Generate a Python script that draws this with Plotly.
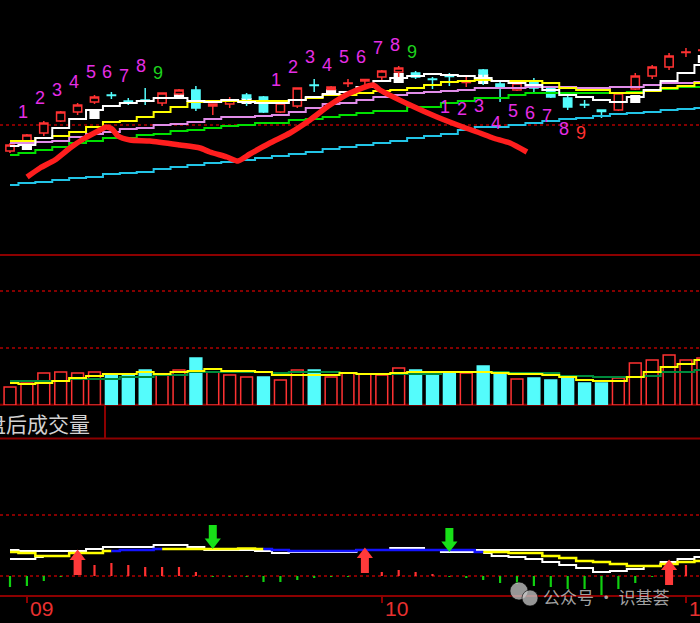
import plotly.graph_objects as go

# ---------------- data ----------------
idx = list(range(42))

open_ = [12.49, 12.58, 12.67, 12.79, 12.88, 12.98, 13.05, 12.99, 13.00, 12.97,
         13.06, 13.10, 12.94, 12.96, 13.05, 13.03, 12.88, 12.94, 13.15, 13.105,
         13.165, 13.19, 13.23, 13.28, 13.27, 13.21, 13.24, 13.175, 13.30, 13.16,
         13.10, 13.18, 13.12, 13.02, 12.955, 12.90, 12.90, 13.11, 13.24, 13.33,
         13.475, 13.495]
high = [12.57, 12.66, 12.79, 12.89, 12.97, 13.05, 13.08, 13.02, 13.12, 13.07,
        13.11, 13.14, 12.96, 13.03, 13.07, 13.04, 12.98, 13.12, 13.21, 13.14,
        13.21, 13.21, 13.30, 13.34, 13.29, 13.23, 13.27, 13.25, 13.31, 13.20,
        13.18, 13.22, 13.14, 13.06, 13.00, 12.90, 13.08, 13.27, 13.35, 13.47,
        13.52, 13.53]
low = [12.47, 12.57, 12.64, 12.78, 12.85, 12.96, 13.01, 12.95, 12.95, 12.94,
       13.05, 12.89, 12.85, 12.92, 12.94, 12.87, 12.87, 12.92, 13.08, 13.10,
       13.13, 13.13, 13.18, 13.22, 13.21, 13.11, 13.14, 13.13, 13.15, 12.98,
       13.09, 13.08, 13.02, 12.90, 12.92, 12.82, 12.89, 13.10, 13.21, 13.30,
       13.43, 13.45]
close = [12.55, 12.65, 12.77, 12.88, 12.95, 13.03, 13.045, 12.985, 12.995, 13.07,
         13.10, 12.92, 12.96, 13.00, 13.02, 12.88, 12.97, 13.12, 13.145, 13.13,
         13.17, 13.205, 13.29, 13.32, 13.23, 13.205, 13.235, 13.18, 13.26, 13.12,
         13.17, 13.12, 13.03, 12.93, 12.95, 12.885, 13.07, 13.24, 13.33, 13.44,
         13.48, 13.50]

white_blk_idx = [1, 5, 10, 14, 19, 23, 28, 37, 41]
white_blk_top = [12.57, 12.91, 13.07, 13.02, 13.11, 13.27, 13.26, 13.05, 13.45]
white_blk_bot = [12.50, 12.81, 13.01, 12.96, 13.05, 13.17, 13.16, 12.97, 13.37]

ma_white = [12.54, 12.55, 12.62, 12.72, 12.81, 12.90, 12.94, 12.97, 12.99, 13.02,
            13.02, 12.99, 12.98, 13.00, 12.98, 12.97, 12.97, 13.00, 13.03, 13.06,
            13.08, 13.13, 13.19, 13.22, 13.24, 13.26, 13.25, 13.24, 13.22, 13.19,
            13.17, 13.15, 13.10, 13.05, 13.03, 13.00, 12.98, 13.03, 13.10, 13.19,
            13.27, 13.35]
ma_yellow = [12.59, 12.59, 12.62, 12.64, 12.68, 12.73, 12.78, 12.79, 12.83, 12.88,
             12.93, 12.98, 12.99, 12.99, 12.99, 12.99, 12.99, 13.00, 13.02, 13.05,
             13.05, 13.07, 13.09, 13.10, 13.12, 13.15, 13.18, 13.19, 13.20, 13.19,
             13.19, 13.19, 13.17, 13.12, 13.10, 13.10, 13.07, 13.07, 13.09, 13.12,
             13.14, 13.17]
ma_pink = [12.57, 12.57, 12.58, 12.59, 12.63, 12.66, 12.68, 12.71, 12.72, 12.75,
           12.76, 12.78, 12.81, 12.83, 12.83, 12.84, 12.85, 12.88, 12.92, 12.96,
           12.97, 13.00, 13.03, 13.05, 13.07, 13.08, 13.09, 13.10, 13.12, 13.12,
           13.12, 13.13, 13.13, 13.13, 13.12, 13.12, 13.13, 13.13, 13.15, 13.17,
           13.17, 13.18]
ma_green = [12.45, 12.47, 12.50, 12.53, 12.57, 12.59, 12.62, 12.62, 12.65, 12.66,
            12.69, 12.70, 12.72, 12.74, 12.75, 12.77, 12.77, 12.80, 12.81, 12.83,
            12.85, 12.87, 12.89, 12.89, 12.93, 12.93, 12.97, 12.99, 13.02, 13.02,
            13.05, 13.07, 13.07, 13.07, 13.07, 13.07, 13.07, 13.08, 13.10, 13.11,
            13.13, 13.13]
ma_cyan = [12.15, 12.17, 12.18, 12.20, 12.22, 12.23, 12.26, 12.27, 12.28, 12.31,
           12.33, 12.35, 12.37, 12.38, 12.40, 12.42, 12.44, 12.46, 12.48, 12.51,
           12.53, 12.55, 12.57, 12.59, 12.62, 12.64, 12.66, 12.70, 12.73, 12.73,
           12.75, 12.77, 12.79, 12.81, 12.82, 12.84, 12.86, 12.87, 12.88, 12.90,
           12.91, 12.92]
ref_level = 12.75

# hand-drawn red stroke over the price panel
sketch_x = [1.01, 1.78, 2.66, 3.55, 4.44, 5.33, 5.68, 6.04, 6.39, 7.10, 8.28, 10.06,
            11.24, 11.83, 12.84, 13.49, 14.20, 15.38, 16.57, 17.75, 18.93, 20.12,
            21.48, 21.89, 23.67, 25.27, 26.80, 27.81, 28.58, 29.59, 30.59]
sketch_y = [12.23, 12.32, 12.40, 12.52, 12.62, 12.70, 12.73, 12.71, 12.64, 12.60, 12.59,
            12.55, 12.52, 12.48, 12.43, 12.39, 12.46, 12.57, 12.67, 12.80, 12.95, 13.07,
            13.15, 13.10, 12.95, 12.83, 12.73, 12.67, 12.62, 12.57, 12.48]

td_text = ['1', '2', '3', '4', '5', '6', '7', '8', '9']
td1_idx = [1, 2, 3, 4, 5, 6, 7, 8, 9]
td1_y = [12.88, 13.02, 13.10, 13.18, 13.28, 13.28, 13.24, 13.34, 13.27]
td2_idx = [16, 17, 18, 19, 20, 21, 22, 23, 24]
td2_y = [13.20, 13.33, 13.43, 13.35, 13.43, 13.43, 13.52, 13.55, 13.48]
td3_idx = [26, 27, 28, 29, 30, 31, 32, 33, 34]
td3_y = [12.93, 12.91, 12.94, 12.77, 12.89, 12.87, 12.84, 12.71, 12.67]

volume = [18, 22, 32, 33, 32, 33, 31, 31, 35, 31,
          35, 47, 33, 30, 28, 28, 25, 35, 35, 28,
          32, 31, 30, 37, 35, 32, 33, 32, 39, 33,
          26, 27, 25, 28, 22, 22, 27, 42, 45, 50,
          45, 47]
vol_up = [1, 1, 1, 1, 1, 1, 0, 0, 0, 1,
          1, 0, 1, 1, 1, 0, 1, 1, 0, 1,
          1, 1, 1, 1, 0, 0, 0, 1, 0, 0,
          1, 0, 0, 0, 0, 0, 1, 1, 1, 1,
          1, 1]
vol_ma_y = [22, 21, 22, 24, 27, 29, 31, 31, 33, 31,
            33, 34, 36, 34, 34, 33, 30, 30, 30, 30,
            32, 31, 31, 32, 33, 33, 33, 33, 33, 32,
            31, 31, 30, 28, 25, 24, 24, 28, 33, 38,
            41, 45]
vol_ma_g = [24, 24, 24, 24, 26, 26, 26, 28, 28, 30,
            30, 33, 33, 33, 33, 33, 32, 33, 33, 33,
            32, 31, 31, 31, 31, 31, 33, 33, 33, 33,
            32, 32, 32, 29, 29, 28, 28, 28, 29, 33,
            33, 35]
vol_grid = [57, 114]

ind_upper = [1.30, 1.25, 1.25, 1.25, 1.25, 1.35, 1.45, 1.45, 1.45, 1.55,
             1.55, 1.45, 1.30, 1.30, 1.30, 1.25, 1.15, 1.20, 1.20, 1.20,
             1.20, 1.30, 1.30, 1.40, 1.40, 1.30, 1.20, 1.20, 1.30, 1.30,
             1.30, 1.30, 1.30, 1.30, 1.30, 1.30, 1.30, 1.30, 1.30, 1.30,
             1.30, 1.30]
ind_line = [1.20, 1.15, 1.00, 1.00, 1.15, 1.15, 1.25, 1.30, 1.30, 1.35,
            1.35, 1.35, 1.35, 1.35, 1.37, 1.35, 1.30, 1.25, 1.25, 1.25,
            1.25, 1.30, 1.30, 1.30, 1.30, 1.30, 1.30, 1.30, 1.20, 1.20,
            1.15, 1.15, 1.00, 0.90, 0.75, 0.70, 0.60, 0.50, 0.50, 0.60,
            0.70, 0.75]
ind_blue = [0, 0, 0, 0, 0, 0, 0, 1, 1, 0,
            0, 0, 0, 0, 0, 0, 1, 1, 1, 1,
            1, 1, 1, 1, 1, 1, 1, 1, 0, 0,
            0, 0, 0, 0, 0, 0, 0, 0, 0, 0,
            0, 0]
ind_lower = [0.85, 0.85, 0.95, None, None, None, None, None, None, None,
             None, None, None, None, None, None, None, None, None, None,
             None, None, None, None, None, None, None, None, 1.15, 1.00,
             0.95, 0.85, 0.70, 0.55, 0.40, 0.20, 0.25, 0.35, 0.50, 0.70,
             0.85, 0.95]
signal = [-0.55, -0.50, -0.25, -0.05, 0.0, 0.55, 0.65, 0.55, 0.45, 0.45,
          0.45, 0.20, -0.05, -0.05, -0.05, -0.30, -0.30, -0.20, -0.10, -0.05,
          -0.05, 0.0, 0.20, 0.30, 0.20, 0.10, -0.05, -0.10, -0.20, -0.35,
          -0.40, -0.50, -0.55, -0.65, -0.65, -0.95, -0.65, -0.35, -0.05, 0.0,
          0.55, 0.0]
up_arrow_idx = [4, 21, 39]
up_arrow_head = [0.97, 1.07, 0.47]
up_arrow_tail = [0.05, 0.15, -0.45]
dn_arrow_idx = [12, 26]
dn_arrow_head = [1.70, 1.55]
dn_arrow_tail = [2.55, 2.40]
ind_grid = [0.0, 3.05]

tick_idx = [1, 22, 40]
tick_text = ['09', '10', '11']

# ---------------- figure ----------------
W, H = 700, 623
def py(px):
    return 1 - px / H

RED = '#ff3232'
CYAN = '#54fcfc'
DARKRED = '#8c0000'
DOTRED = '#b00000'

fig = go.Figure()

# candles
fig.add_trace(go.Candlestick(
    x=idx, open=open_, high=high, low=low, close=close,
    increasing=dict(line=dict(color=RED, width=1.5), fillcolor='#000000'),
    decreasing=dict(line=dict(color=CYAN, width=1.5), fillcolor=CYAN),
    whiskerwidth=0, xaxis='x', yaxis='y', hoverinfo='skip', showlegend=False))

# white blocks
fig.add_trace(go.Bar(
    x=white_blk_idx,
    y=[t - b for t, b in zip(white_blk_top, white_blk_bot)],
    base=white_blk_bot, width=0.6, marker=dict(color='#ffffff', line=dict(width=0)),
    xaxis='x', yaxis='y', hoverinfo='skip', showlegend=False))

# moving averages
for vals, col in [(ma_cyan, '#22c4e6'), (ma_green, '#00e000'), (ma_pink, '#e08ce8'),
                  (ma_yellow, '#ffff00'), (ma_white, '#ffffff')]:
    fig.add_trace(go.Scatter(x=idx, y=vals, mode='lines', line=dict(color=col, width=2, shape='hvh'),
                             xaxis='x', yaxis='y', hoverinfo='skip', showlegend=False))

# hand drawn stroke
fig.add_trace(go.Scatter(x=sketch_x, y=sketch_y, mode='lines',
                         line=dict(color='#ff1e1e', width=5.5, shape='spline', smoothing=0.6),
                         xaxis='x', yaxis='y', hoverinfo='skip', showlegend=False))

# volume
fig.add_trace(go.Bar(
    x=idx, y=volume, width=0.7,
    marker=dict(color=['#000000' if u else CYAN for u in vol_up],
                line=dict(color=[RED if u else CYAN for u in vol_up], width=1.5)),
    xaxis='x', yaxis='y2', hoverinfo='skip', showlegend=False))
fig.add_trace(go.Scatter(x=idx, y=vol_ma_g, mode='lines', line=dict(color='#008a3c', width=2, shape='hvh'),
                         xaxis='x', yaxis='y2', hoverinfo='skip', showlegend=False))
fig.add_trace(go.Scatter(x=idx, y=vol_ma_y, mode='lines', line=dict(color='#ffff00', width=2, shape='hvh'),
                         xaxis='x', yaxis='y2', hoverinfo='skip', showlegend=False))

# indicator
fig.add_trace(go.Bar(
    x=idx, y=signal, width=0.13,
    marker=dict(color=[RED if s > 0 else '#10d010' for s in signal], line=dict(width=0)),
    xaxis='x', yaxis='y3', hoverinfo='skip', showlegend=False))
fig.add_trace(go.Scatter(x=idx, y=ind_lower, mode='lines', line=dict(color='#ffffff', width=2, shape='hvh'),
                         xaxis='x', yaxis='y3', hoverinfo='skip', showlegend=False))
fig.add_trace(go.Scatter(x=idx, y=ind_upper, mode='lines', line=dict(color='#ffffff', width=2, shape='hvh'),
                         xaxis='x', yaxis='y3', hoverinfo='skip', showlegend=False))
n = len(idx)
yel = [v if not ind_blue[i] else None for i, v in enumerate(ind_line)]
blu = [v if (ind_blue[i] or (i > 0 and ind_blue[i - 1]) or (i < n - 1 and ind_blue[i + 1])) else None
       for i, v in enumerate(ind_line)]
fig.add_trace(go.Scatter(x=idx, y=yel, mode='lines', line=dict(color='#ffff00', width=2.5, shape='hvh'),
                         xaxis='x', yaxis='y3', hoverinfo='skip', showlegend=False))
fig.add_trace(go.Scatter(x=idx, y=blu, mode='lines', line=dict(color='#1414ff', width=2.5, shape='hvh'),
                         xaxis='x', yaxis='y3', hoverinfo='skip', showlegend=False))

# arrows
sx, sy = [], []
for i, h, t in zip(up_arrow_idx, up_arrow_head, up_arrow_tail):
    sx += [i, i, None]; sy += [t, h, None]
fig.add_trace(go.Scatter(x=sx, y=sy, mode='lines', line=dict(color='#ff3a3a', width=8),
                         xaxis='x', yaxis='y3', hoverinfo='skip', showlegend=False))
fig.add_trace(go.Scatter(x=up_arrow_idx, y=up_arrow_head, mode='markers',
                         marker=dict(symbol='triangle-up', size=14, color='#ff3a3a', line=dict(width=0)),
                         xaxis='x', yaxis='y3', hoverinfo='skip', showlegend=False))
sx, sy = [], []
for i, h, t in zip(dn_arrow_idx, dn_arrow_head, dn_arrow_tail):
    sx += [i, i, None]; sy += [t, h, None]
fig.add_trace(go.Scatter(x=sx, y=sy, mode='lines', line=dict(color='#18e018', width=8),
                         xaxis='x', yaxis='y3', hoverinfo='skip', showlegend=False))
fig.add_trace(go.Scatter(x=dn_arrow_idx, y=dn_arrow_head, mode='markers',
                         marker=dict(symbol='triangle-down', size=14, color='#18e018', line=dict(width=0)),
                         xaxis='x', yaxis='y3', hoverinfo='skip', showlegend=False))

# ---------------- shapes ----------------
shapes = []
def hline_paper(ypx, width=2, color=DARKRED):
    shapes.append(dict(type='line', xref='paper', yref='paper', x0=0, x1=1,
                       y0=py(ypx), y1=py(ypx), line=dict(color=color, width=width), layer='below'))
hline_paper(255)
hline_paper(404.8)
hline_paper(438.5)
shapes.append(dict(type='line', xref='paper', yref='paper', x0=105 / W, x1=105 / W,
                   y0=py(405), y1=py(438), line=dict(color=DARKRED, width=2)))
def dotted(yref, val):
    shapes.append(dict(type='line', xref='paper', yref=yref, x0=0, x1=1, y0=val, y1=val,
                       line=dict(color=DOTRED, width=1.5, dash='dot'), layer='below'))
dotted('y', ref_level)
for g in vol_grid:
    dotted('y2', g)
for g in ind_grid:
    dotted('y3', g)
# watermark icon
for cx, cy, r in [(519, 591, 9), (530, 598, 8)]:
    shapes.append(dict(type='circle', xref='paper', yref='paper',
                       x0=(cx - r) / W, x1=(cx + r) / W, y0=py(cy + r), y1=py(cy - r),
                       fillcolor='rgba(200,200,200,0.75)', line=dict(color='rgba(0,0,0,0.6)', width=1)))

# ---------------- annotations ----------------
ann = []
MAG = '#e62ee6'
def td(idxs, ys, last_col):
    for k, (i, y) in enumerate(zip(idxs, ys)):
        ann.append(dict(x=i, y=y, xref='x', yref='y', text=td_text[k], showarrow=False,
                        xshift=-4, font=dict(family='Liberation Sans', size=18,
                                             color=last_col if k == 8 else MAG)))
td(td1_idx, td1_y, '#1ed21e')
td(td2_idx, td2_y, '#1ed21e')
td(td3_idx, td3_y, '#ff3030')

for i, t in zip(tick_idx, tick_text):
    ann.append(dict(x=i, y=py(608), xref='x', yref='paper', text=t, showarrow=False,
                    xanchor='left', yanchor='middle', xshift=1,
                    font=dict(family='Liberation Sans', size=21, color='#e83030')))

ann.append(dict(x=92 / W, y=py(423), xref='paper', yref='paper', text='盘后成交量', showarrow=False,
                xanchor='right', yanchor='middle',
                font=dict(family='Noto Sans CJK SC', size=21, color='#d2d2d2')))
ann.append(dict(x=541 / W, y=py(596), xref='paper', yref='paper', text='公众号 · 识基荟', showarrow=False,
                xanchor='left', yanchor='middle',
                font=dict(family='Noto Sans CJK SC', size=17, color='rgba(205,205,205,0.8)')))

fig.update_layout(
    width=W, height=H, margin=dict(l=0, r=0, t=0, b=0),
    paper_bgcolor='#000000', plot_bgcolor='#000000',
    showlegend=False, hovermode=False, barmode='overlay', boxgap=0.3,
    shapes=shapes, annotations=ann,
    xaxis=dict(domain=[0, 1], range=[-0.5917, 40.83], anchor='y3',
               showgrid=False, zeroline=False, showline=True, linecolor=DARKRED, linewidth=2,
               ticks='outside', ticklen=6, tickwidth=1.5, tickcolor=DARKRED,
               tickvals=tick_idx, showticklabels=False, rangeslider=dict(visible=False),
               fixedrange=True),
    yaxis=dict(domain=[py(255), 1], range=[11.45, 14.00], anchor='x',
               showgrid=False, zeroline=False, showticklabels=False, fixedrange=True),
    yaxis2=dict(domain=[py(405), py(255)], range=[0, 150], anchor='x',
                showgrid=False, zeroline=False, showticklabels=False, fixedrange=True),
    yaxis3=dict(domain=[py(595), py(438)], range=[-0.95, 6.9], anchor='x',
                showgrid=False, zeroline=False, showticklabels=False, fixedrange=True),
)

fig.write_html('out.html', config={'displayModeBar': False, 'staticPlot': True},
               post_script="document.body.style.margin='0';document.body.style.overflow='hidden';"
                           "document.body.style.background='#000';")
